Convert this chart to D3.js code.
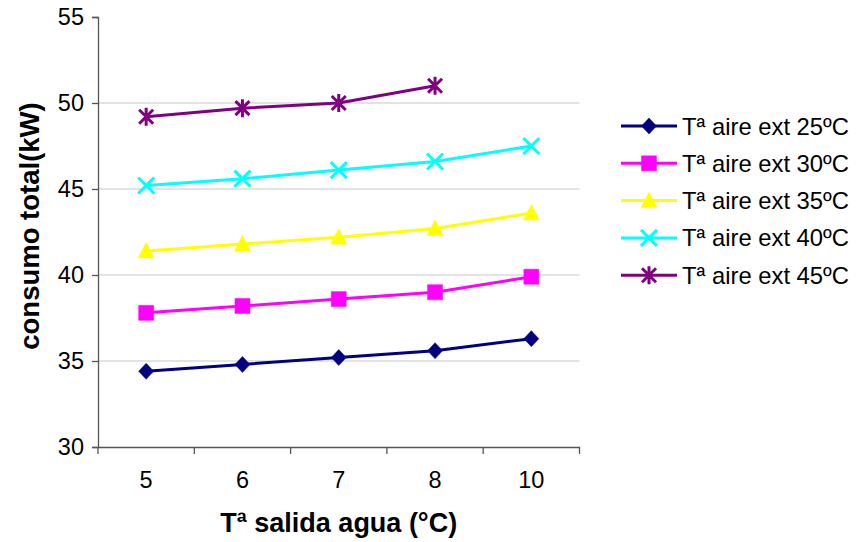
<!DOCTYPE html>
<html>
<head>
<meta charset="utf-8">
<script src="https://cdn.jsdelivr.net/npm/d3@7/dist/d3.min.js"></script>
<style>
  html, body { margin: 0; padding: 0; background: #fff; }
  svg { display: block; font-family: "Liberation Sans", Arial, sans-serif; }
</style>
</head>
<body>
<svg id="chart" width="856" height="542"></svg>
<script>
// Water outlet temperature categories (x axis)
const categories = ["5", "6", "7", "8", "10"];

// Total consumption (kW) per outdoor air temperature
const serie25 = [34.4, 34.8, 35.2, 35.6, 36.3];
const serie30 = [37.8, 38.2, 38.6, 39.0, 39.9];
const serie35 = [41.4, 41.8, 42.2, 42.7, 43.6];
const serie40 = [45.2, 45.6, 46.1, 46.6, 47.5];
const serie45 = [49.2, 49.7, 50.0, 51.0, null];

const seriesNames = ["Tª aire ext 25ºC", "Tª aire ext 30ºC", "Tª aire ext 35ºC", "Tª aire ext 40ºC", "Tª aire ext 45ºC"];
const yTicks = [30, 35, 40, 45, 50, 55];

const xTitle = "Tª salida agua (°C)";
const yTitle = "consumo total(kW)";

const series = [
  { name: seriesNames[0], values: serie25, color: "#000080", marker: "diamond" },
  { name: seriesNames[1], values: serie30, color: "#FF00FF", marker: "square" },
  { name: seriesNames[2], values: serie35, color: "#FFFF00", marker: "triangle" },
  { name: seriesNames[3], values: serie40, color: "#00FFFF", marker: "x" },
  { name: seriesNames[4], values: serie45, color: "#800080", marker: "star" }
];

const svg = d3.select("#chart");
const plot = { left: 98, right: 579.5, top: 17, bottom: 447 };

const x = d3.scaleBand().domain(categories).range([plot.left, plot.right]).padding(0);
const y = d3.scaleLinear().domain([30, 55]).range([plot.bottom, plot.top]);

// Horizontal gridlines
svg.append("g")
  .selectAll("line")
  .data(yTicks.filter(t => t > 30 && t < 55))
  .join("line")
  .attr("x1", plot.left).attr("x2", plot.right)
  .attr("y1", d => y(d)).attr("y2", d => y(d))
  .attr("stroke", "#c8c8c8").attr("stroke-width", 1.2);

// Y axis
const yAxis = svg.append("g")
  .attr("transform", `translate(${plot.left},0)`)
  .call(d3.axisLeft(y).tickValues(yTicks).tickSize(6).tickPadding(8).tickFormat(d3.format("d")));
yAxis.select(".domain").attr("stroke", "#555").attr("stroke-width", 1.3);
yAxis.selectAll(".tick line").attr("stroke", "#555").attr("stroke-width", 1.3);
yAxis.selectAll(".tick text").attr("font-size", 23.5).attr("fill", "#000")
  .attr("font-family", "'Liberation Sans', Arial, sans-serif");

// X axis: labels centred in each category, ticks on the category boundaries
const xAxis = svg.append("g")
  .attr("transform", `translate(0,${plot.bottom})`)
  .call(d3.axisBottom(x).tickSize(0).tickPadding(24));
xAxis.select(".domain").attr("stroke", "#555").attr("stroke-width", 1.3);
xAxis.selectAll(".tick text").attr("font-size", 23.5).attr("fill", "#000")
  .attr("font-family", "'Liberation Sans', Arial, sans-serif");
const boundaries = categories.map(c => x(c)).concat([x(categories[categories.length - 1]) + x.bandwidth()]);
xAxis.selectAll("line.bound")
  .data(boundaries)
  .join("line")
  .attr("class", "bound")
  .attr("x1", d => d).attr("x2", d => d)
  .attr("y1", 0).attr("y2", 7)
  .attr("stroke", "#555").attr("stroke-width", 1.3);

// Axis titles
svg.append("text")
  .attr("x", (plot.left + plot.right) / 2).attr("y", 532)
  .attr("text-anchor", "middle")
  .attr("font-size", 27).attr("font-weight", "bold")
  .text(xTitle);

svg.append("text")
  .attr("transform", `translate(39,226) rotate(-90)`)
  .attr("text-anchor", "middle")
  .attr("font-size", 27.5).attr("font-weight", "bold")
  .text(yTitle);

// Marker shapes
function markerPath(type) {
  switch (type) {
    case "diamond": return "M0,-8L7.5,0L0,8L-7.5,0Z";
    case "square": return "M-7.5,-7.5H7.5V7.5H-7.5Z";
    case "triangle": return "M0,-8.5L8,7L-8,7Z";
    case "x": return "M-8,-8L8,8M8,-8L-8,8";
    case "star": return "M-7,-7L7,7M7,-7L-7,7M0,-9V9";
  }
}
function drawMarker(g, type, color) {
  const filled = type === "diamond" || type === "square" || type === "triangle";
  g.append("path")
    .attr("d", markerPath(type))
    .attr("fill", filled ? color : "none")
    .attr("stroke", color)
    .attr("stroke-width", filled ? 0.5 : 3);
}

const cx = c => x(c) + x.bandwidth() / 2;
const line = d3.line()
  .defined(d => d.v != null)
  .x(d => cx(d.c))
  .y(d => y(d.v));

series.forEach(s => {
  const pts = categories.map((c, i) => ({ c, v: s.values[i] }));
  svg.append("path")
    .datum(pts)
    .attr("d", line)
    .attr("fill", "none")
    .attr("stroke", s.color)
    .attr("stroke-width", 3);
  pts.filter(p => p.v != null).forEach(p => {
    const g = svg.append("g").attr("transform", `translate(${cx(p.c)},${y(p.v)})`);
    drawMarker(g, s.marker, s.color);
  });
});

// Legend
const legend = svg.append("g");
series.forEach((s, i) => {
  const ly = 126 + i * 37.3;
  legend.append("line")
    .attr("x1", 621).attr("x2", 677).attr("y1", ly).attr("y2", ly)
    .attr("stroke", s.color).attr("stroke-width", 3);
  const g = legend.append("g").attr("transform", `translate(649,${ly})`);
  drawMarker(g, s.marker, s.color);
  legend.append("text")
    .attr("x", 682).attr("y", ly + 8.5)
    .attr("font-size", 23.8)
    .text(s.name);
});
</script>
</body>
</html>
